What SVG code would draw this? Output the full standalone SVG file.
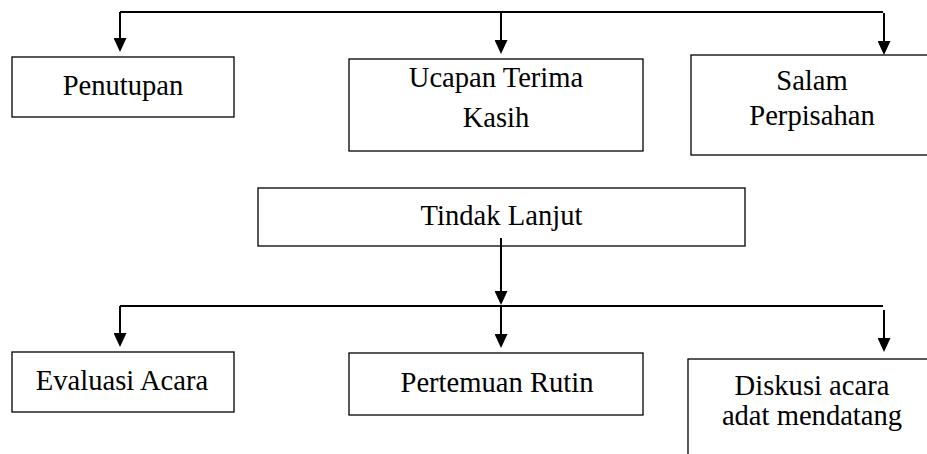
<svg xmlns="http://www.w3.org/2000/svg" width="927" height="454" viewBox="0 0 927 454">
<style>
.box{fill:#fff;stroke:#000;stroke-width:1.3}
.t{font-family:'Liberation Serif','Times New Roman',serif;font-size:28.6px;fill:#000;text-anchor:middle}
.c{fill:none;stroke:#000;stroke-width:2}
</style>
<defs>
<marker id="ah" viewBox="0 0 14 13" refX="9" refY="6.5" markerWidth="14" markerHeight="13" markerUnits="userSpaceOnUse" orient="auto">
<path d="M0,0 L14,6.5 L0,13 z" fill="#000"/>
</marker>
</defs>
<rect width="927" height="454" fill="#fff"/>
<g id="connectors">
<path class="c" d="M120,12 H883"/>
<path class="c" d="M120,12 V47" marker-end="url(#ah)"/>
<path class="c" d="M501,12 V49" marker-end="url(#ah)"/>
<path class="c" d="M884,13 V50" marker-end="url(#ah)"/>
<path class="c" d="M501,238 V300" marker-end="url(#ah)"/>
<path class="c" d="M120,306 H883"/>
<path class="c" d="M120,306 V342" marker-end="url(#ah)"/>
<path class="c" d="M501,306 V343" marker-end="url(#ah)"/>
<path class="c" d="M884,310 V347" marker-end="url(#ah)"/>
</g>
<g id="penutupan">
<rect class="box" x="12" y="57" width="222" height="60"/>
<text class="t" x="123" y="95">Penutupan</text>
</g>
<g id="ucapan">
<rect class="box" x="349" y="59" width="294" height="92"/>
<text class="t" x="496" y="87">Ucapan Terima</text>
<text class="t" x="496" y="127">Kasih</text>
</g>
<g id="salam">
<rect class="box" x="691" y="55" width="260" height="100"/>
<text class="t" x="812" y="90">Salam</text>
<text class="t" x="812" y="125">Perpisahan</text>
</g>
<g id="tindak">
<rect class="box" x="258" y="188" width="487" height="58" fill-opacity="0"/>
<text class="t" x="501.5" y="225">Tindak Lanjut</text>
</g>
<g id="evaluasi">
<rect class="box" x="12" y="352" width="222" height="60"/>
<text class="t" x="122" y="390">Evaluasi Acara</text>
</g>
<g id="pertemuan">
<rect class="box" x="349" y="353" width="294" height="62"/>
<text class="t" x="497" y="392">Pertemuan Rutin</text>
</g>
<g id="diskusi">
<rect class="box" x="688" y="359" width="260" height="120"/>
<text class="t" x="812" y="395">Diskusi acara</text>
<text class="t" x="812" y="425">adat mendatang</text>
</g>
</svg>
